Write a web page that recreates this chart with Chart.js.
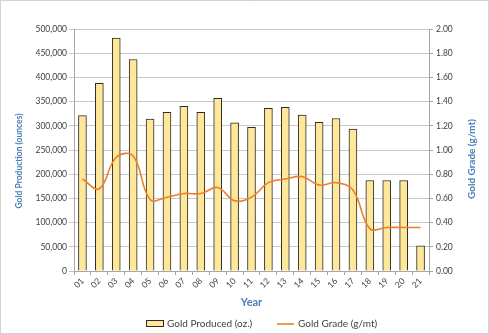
<!DOCTYPE html>
<html>
<head>
<meta charset="utf-8">
<script src="https://cdn.jsdelivr.net/npm/chart.js@4"></script>
<style>
  html, body { margin: 0; padding: 0; background: #fff; }
  #wrap { width: 489px; height: 334px; }
</style>
</head>
<body>
<div id="wrap"><canvas id="grap" width="489" height="334"></canvas></div>
<script>
const anos = ['01','02','03','04','05','06','07','08','09','10','11','12','13','14','15','16','17','18','19','20','21']
const ouro = [321000, 388000, 481000, 437000, 314000, 328000, 340000, 328000, 357000, 306000, 297000,
              336000, 338000, 322000, 307000, 315000, 293000, 187000, 187000, 187000, 52000]
const teor = [0.76, 0.68, 0.94, 0.95, 0.59, 0.61, 0.64, 0.64, 0.69, 0.58, 0.61,
              0.73, 0.76, 0.78, 0.71, 0.73, 0.67, 0.35, 0.36, 0.36, 0.36]

const azul = '#4A7EBB'
const cinza = '#404040'
const fonte = 'Lato'

function textoVertical(c, txt, x, y, tam) {
    c.save()
    c.translate(x, y)
    c.rotate(-Math.PI / 2)
    c.fillStyle = azul
    c.font = 'bold ' + tam + 'px ' + fonte
    c.textAlign = 'center'
    c.textBaseline = 'middle'
    c.fillText(txt, 0, 0)
    c.restore()
}

// fundo, moldura pontilhada, titulos dos eixos y e legenda
const extras = {
    id: 'extras',
    beforeDraw(chart) {
        const c = chart.ctx
        c.save()
        c.fillStyle = '#fff'
        c.fillRect(0, 0, chart.width, chart.height)
        c.restore()
    },
    afterDraw(chart) {
        const c = chart.ctx
        c.save()
        c.strokeStyle = '#a6a6a6'
        c.lineWidth = 1
        c.setLineDash([1, 1])
        c.strokeRect(0.5, 0.5, chart.width - 1, chart.height - 1)
        c.restore()

        textoVertical(c, 'Gold Production (ounces)', 19, 161, 8.5)
        textoVertical(c, 'Gold Grade (g/mt)', 472, 159, 10)

        const barra = chart.data.datasets[0]
        const linha = chart.data.datasets[1]
        const ly = 324
        c.save()
        c.fillStyle = barra.backgroundColor
        c.fillRect(147, ly - 3, 16, 5)
        c.strokeStyle = barra.borderColor
        c.lineWidth = 1
        c.strokeRect(146.5, ly - 3.5, 17, 6)
        c.strokeStyle = linha.borderColor
        c.lineWidth = 1.6
        c.beginPath()
        c.moveTo(277, ly)
        c.lineTo(294, ly)
        c.stroke()
        c.fillStyle = cinza
        c.font = '10px ' + fonte
        c.textBaseline = 'middle'
        c.fillText(barra.label, 167, ly)
        c.fillText(linha.label, 298, ly)
        c.restore()
    }
}

function criarGraf() {
    const ctx = document.getElementById('grap').getContext('2d')

    new Chart(ctx, {
        data: {
            labels: anos,
            datasets: [{
                type: 'bar',
                label: 'Gold Produced (oz.)',
                data: ouro,
                backgroundColor: '#FFE79A',
                borderColor: '#2b2b2b',
                borderWidth: 1,
                barThickness: 8,
                yAxisID: 'y',
                order: 2
            }, {
                type: 'line',
                label: 'Gold Grade (g/mt)',
                data: teor,
                borderColor: '#F07F24',
                backgroundColor: '#F07F24',
                borderWidth: 1.6,
                pointRadius: 0,
                tension: 0.4,
                yAxisID: 'y1',
                order: 1
            }]
        },
        options: {
            responsive: false,
            maintainAspectRatio: false,
            animation: false,
            layout: { padding: { top: 29, left: 0, right: 0, bottom: 20 } },
            plugins: {
                tooltip: { enabled: false },
                legend: { display: false }
            },
            scales: {
                x: {
                    offset: true,
                    grid: { display: true, drawOnChartArea: false, drawTicks: true, tickLength: 4, color: '#a6a6a6', offset: true },
                    border: { color: '#a6a6a6' },
                    ticks: { autoSkip: false, color: cinza, font: { family: fonte, size: 8.5 }, minRotation: 45, maxRotation: 45, padding: 1 },
                    title: { display: true, text: 'Year', color: azul, font: { family: fonte, size: 11, weight: 'bold' }, padding: { top: 0, bottom: 5 } },
                    afterFit: (s) => { s.height = 43 }
                },
                y: {
                    position: 'left',
                    min: 0,
                    max: 500000,
                    grid: { color: '#c8c8c8', tickLength: 5 },
                    border: { color: '#a6a6a6' },
                    ticks: {
                        stepSize: 50000,
                        padding: 2,
                        color: cinza,
                        font: { family: fonte, size: 8.5 },
                        callback: function (value) {
                            return value.toLocaleString('en-US')
                        }
                    },
                    afterFit: (s) => { s.width = 74 }
                },
                y1: {
                    position: 'right',
                    min: 0,
                    max: 2,
                    grid: { drawOnChartArea: false, color: '#a6a6a6', tickLength: 4 },
                    border: { color: '#a6a6a6' },
                    ticks: {
                        stepSize: 0.2,
                        padding: 3,
                        color: cinza,
                        font: { family: fonte, size: 8.5 },
                        callback: function (value) {
                            return value.toFixed(2)
                        }
                    },
                    afterFit: (s) => { s.width = 60 }
                }
            }
        },
        plugins: [extras]
    })
}

criarGraf()
</script>
</body>
</html>
